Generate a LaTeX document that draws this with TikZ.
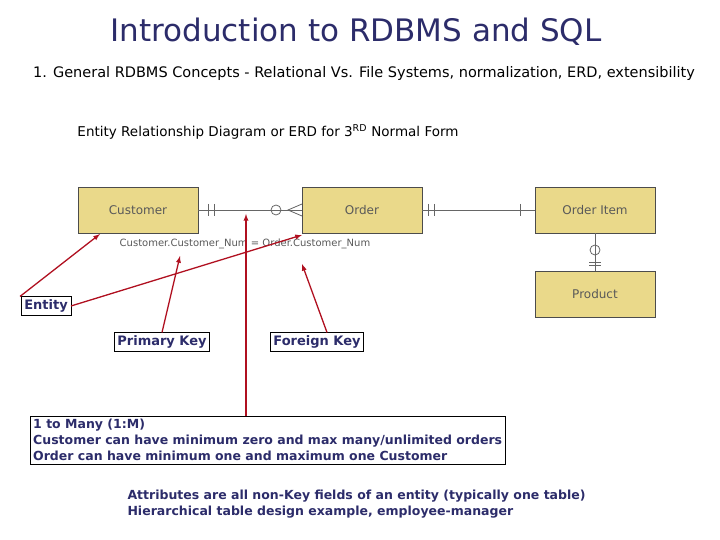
\documentclass[tikz,border=0pt]{standalone}
\usepackage{fontspec}
\setmainfont{DejaVu Sans}
\begin{document}
\begin{tikzpicture}[x=1pt,y=-1pt,
  ent/.style={draw=black!70,fill=entfill,minimum width=120pt,minimum height=46pt,font=\fontsize{12}{14}\selectfont,text=black!65},
  lbl/.style={draw=black,fill=white,text=navy,font=\bfseries\fontsize{13}{15}\selectfont,inner sep=3pt},
  rel/.style={draw=black!60,line width=0.8pt},
  red/.style={draw=darkred,line width=1.3pt,-latex}]
\definecolor{entfill}{HTML}{EAD98A}
\definecolor{navy}{HTML}{2C2C6A}
\definecolor{darkred}{HTML}{B01020}
\useasboundingbox (0,0) rectangle (720,540);
\node[text=navy,font=\fontsize{31}{36}\selectfont] (title) at (356,32) {Introduction to RDBMS and SQL};
\node[text=black,font=\fontsize{14.5}{17}\selectfont] (sub) at (364,74) {1. General RDBMS Concepts - Relational Vs. File Systems, normalization, ERD, extensibility};
\node[text=black,font=\fontsize{13.5}{16}\selectfont] (hd) at (268,132) {Entity Relationship Diagram or ERD for 3\textsuperscript{RD} Normal Form};
\node[ent] (cust) at (138,210) {Customer};
\node[ent] (ord) at (362,210) {Order};
\node[ent] (oi) at (595,210) {Order Item};
\node[ent] (prod) at (595,294) {Product};
\node[text=black!65,font=\fontsize{10}{12}\selectfont,inner sep=0] (attr) at (245,244) {Customer.Customer\_Num = Order.Customer\_Num};
% relations
\draw[rel] (cust.east) -- (ord.west);
\draw[rel] (208,204) -- (208,216) (214,204) -- (214,216);
\draw[rel] (276,210) circle (5pt);
\draw[rel] (302,204) -- (288,210) -- (302,216);
\draw[rel] (ord.east) -- (oi.west);
\draw[rel] (428,204) -- (428,216) (434,204) -- (434,216);
\draw[rel] (520,204) -- (520,216);
\draw[rel] (oi.south) -- (prod.north);
\draw[rel] (595,250) circle (5pt);
\draw[rel] (589,262) -- (601,262) (589,265) -- (601,265);
% labels
\node[lbl] (entl) at (46,306) {Entity};
\node[lbl] (pk) at (162,342) {Primary Key};
\node[lbl] (fk) at (317,342) {Foreign Key};
\node[draw=black,fill=white,text=navy,font=\bfseries\fontsize{12.5}{16}\selectfont,align=left,inner sep=3pt,anchor=north west] (one) at (30,416) {1 to Many (1:M)\\Customer can have minimum zero and max many/unlimited orders\\Order can have minimum one and maximum one Customer};
\node[text=navy,font=\bfseries\fontsize{12.5}{16}\selectfont,align=left,anchor=north west] (attrs) at (124,486) {Attributes are all non-Key fields of an entity (typically one table)\\Hierarchical table design example, employee-manager};
\coordinate (ohead) at (246,214);
\draw[red] (entl.north) ++(-26,0) -- (100,234);
\draw[red] (entl.east) -- (302,235);
\draw[red] (pk.north) -- (180,256);
\draw[red] (fk.north) ++(10,0) -- (302,264);
\draw[red] (one.north -| ohead) -- (ohead);
\end{tikzpicture}
\end{document}
